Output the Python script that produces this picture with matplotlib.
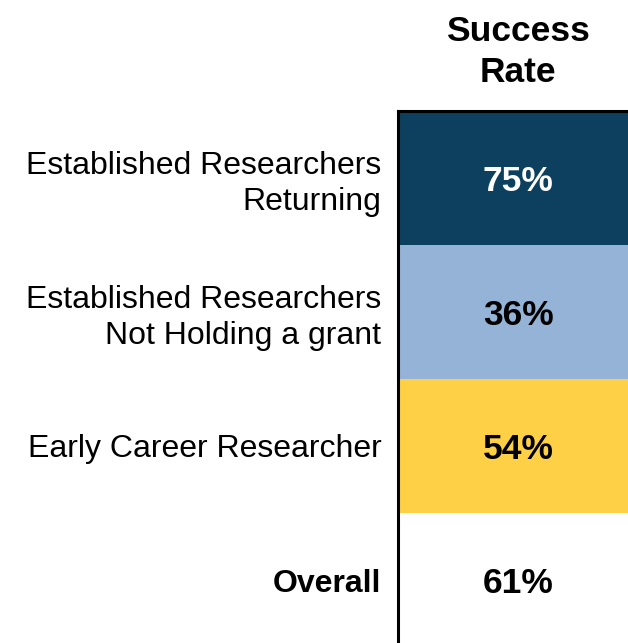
import matplotlib.pyplot as plt

plt.rcParams['font.family'] = ['Liberation Sans', 'DejaVu Sans']

groups = ["Established Researchers\nReturning",
          "Established Researchers\nNot Holding a grant",
          "Early Career Researcher",
          "Overall"]
success_rate = [75, 36, 54, 61]
cell_colors = ["#0c405e", "#95b3d7", "#fed046", "#ffffff"]
text_colors = ["white", "black", "black", "black"]

W, H = 628, 643
fig = plt.figure(figsize=(W / 100, H / 100), dpi=100)
# cells run a little past the right and bottom edges of the picture
ax = fig.add_axes([398 / W, -4 / H, 240 / W, 536 / H])

rows = list(range(len(groups)))
ax.barh(rows, [1] * len(groups), height=1, left=0, color=cell_colors)
ax.set_xlim(0, 1)
ax.set_ylim(len(groups) - 0.5, -0.5)

for i, v in enumerate(success_rate):
    ax.text(0.5, i, f"{v}%", ha="center", va="center_baseline", fontsize=25.5,
            fontweight="bold", color=text_colors[i])

ax.set_yticks(rows)
ax.set_yticklabels(groups, fontsize=23, linespacing=1.22)
ax.get_yticklabels()[-1].set_fontweight("bold")
ax.tick_params(axis="y", length=0, pad=12)
ax.set_xticks([])

for s in ["right", "bottom"]:
    ax.spines[s].set_visible(False)
ax.spines["left"].set_linewidth(2.2)
ax.spines["top"].set_linewidth(2.2)

ax.set_title("Success\nRate", fontsize=25.5, fontweight="bold", pad=21,
             linespacing=1.32)

fig.savefig("out.png", dpi=100)
